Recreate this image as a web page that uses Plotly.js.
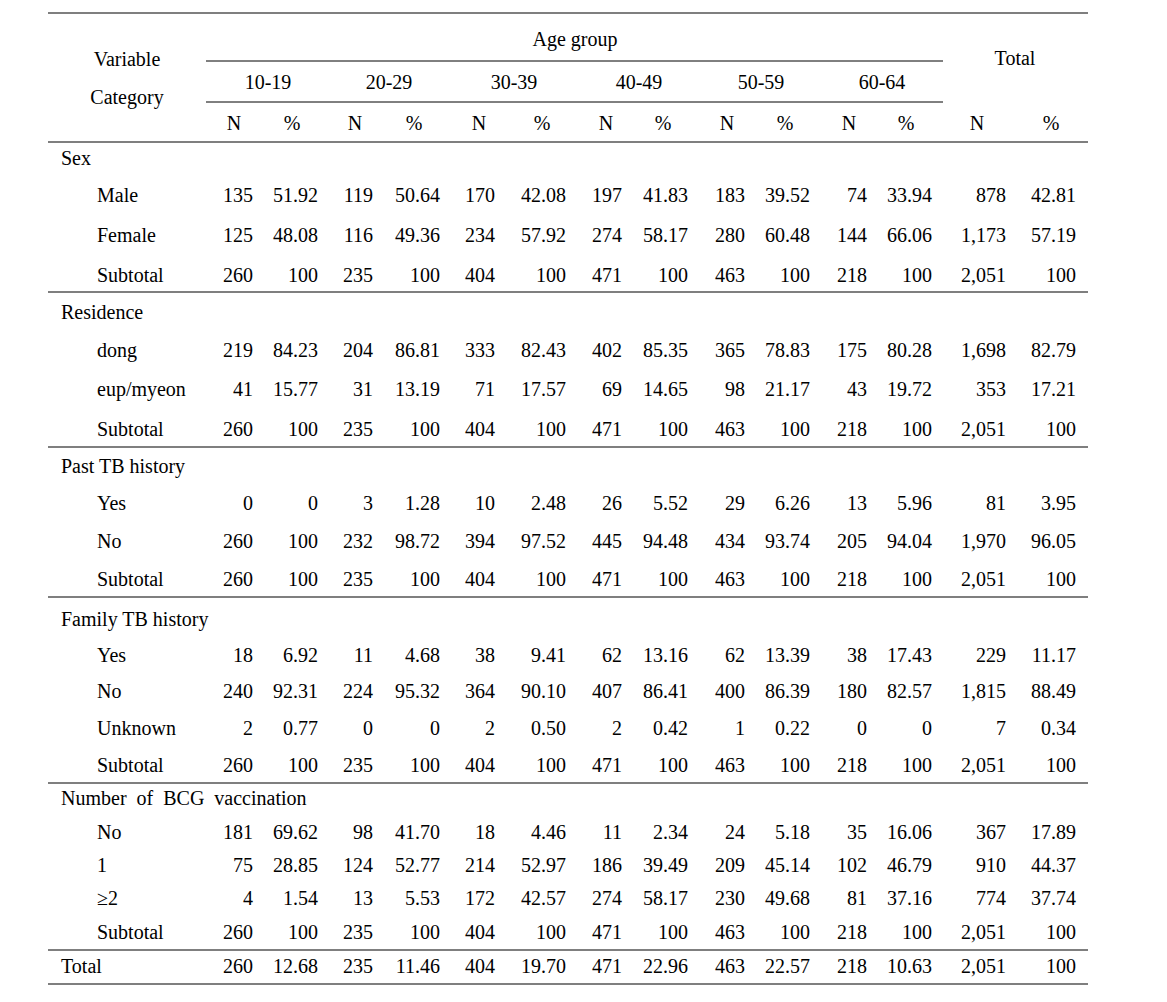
<!DOCTYPE html>
<html lang="en">
<head>
<meta charset="utf-8">
<title>Age group table</title>
<script src="https://cdn.plot.ly/plotly-3.0.1.min.js"></script>
<style>
  html, body { margin: 0; padding: 0; background: #fff; }
  #table { width: 1167px; height: 1002px; }
</style>
</head>
<body>
<div id="table"></div>
<script>
// ---- data ----
var ageGroups = ['10-19', '20-29', '30-39', '40-49', '50-59', '60-64'];
var sections = ['Sex', 'Residence', 'Past TB history', 'Family TB history', 'Number&nbsp; of&nbsp; BCG&nbsp; vaccination'];

var sexLabels = ['Male', 'Female', 'Subtotal'];
var sexN = [
  [135, 119, 170, 197, 183, 74, 878],
  [125, 116, 234, 274, 280, 144, 1173],
  [260, 235, 404, 471, 463, 218, 2051]
];
var sexPct = [
  ['51.92', '50.64', '42.08', '41.83', '39.52', '33.94', '42.81'],
  ['48.08', '49.36', '57.92', '58.17', '60.48', '66.06', '57.19'],
  ['100', '100', '100', '100', '100', '100', '100']
];

var resLabels = ['dong', 'eup/myeon', 'Subtotal'];
var resN = [
  [219, 204, 333, 402, 365, 175, 1698],
  [41, 31, 71, 69, 98, 43, 353],
  [260, 235, 404, 471, 463, 218, 2051]
];
var resPct = [
  ['84.23', '86.81', '82.43', '85.35', '78.83', '80.28', '82.79'],
  ['15.77', '13.19', '17.57', '14.65', '21.17', '19.72', '17.21'],
  ['100', '100', '100', '100', '100', '100', '100']
];

var pastLabels = ['Yes', 'No', 'Subtotal'];
var pastN = [
  [0, 3, 10, 26, 29, 13, 81],
  [260, 232, 394, 445, 434, 205, 1970],
  [260, 235, 404, 471, 463, 218, 2051]
];
var pastPct = [
  ['0', '1.28', '2.48', '5.52', '6.26', '5.96', '3.95'],
  ['100', '98.72', '97.52', '94.48', '93.74', '94.04', '96.05'],
  ['100', '100', '100', '100', '100', '100', '100']
];

var famLabels = ['Yes', 'No', 'Unknown', 'Subtotal'];
var famN = [
  [18, 11, 38, 62, 62, 38, 229],
  [240, 224, 364, 407, 400, 180, 1815],
  [2, 0, 2, 2, 1, 0, 7],
  [260, 235, 404, 471, 463, 218, 2051]
];
var famPct = [
  ['6.92', '4.68', '9.41', '13.16', '13.39', '17.43', '11.17'],
  ['92.31', '95.32', '90.10', '86.41', '86.39', '82.57', '88.49'],
  ['0.77', '0', '0.50', '0.42', '0.22', '0', '0.34'],
  ['100', '100', '100', '100', '100', '100', '100']
];

var bcgLabels = ['No', '1', '\u22652', 'Subtotal'];
var bcgN = [
  [181, 98, 18, 11, 24, 35, 367],
  [75, 124, 214, 186, 209, 102, 910],
  [4, 13, 172, 274, 230, 81, 774],
  [260, 235, 404, 471, 463, 218, 2051]
];
var bcgPct = [
  ['69.62', '41.70', '4.46', '2.34', '5.18', '16.06', '17.89'],
  ['28.85', '52.77', '52.97', '39.49', '45.14', '46.79', '44.37'],
  ['1.54', '5.53', '42.57', '58.17', '49.68', '37.16', '37.74'],
  ['100', '100', '100', '100', '100', '100', '100']
];

var totalN = [260, 235, 404, 471, 463, 218, 2051];
var totalPct = ['12.68', '11.46', '19.70', '22.96', '22.57', '10.63', '100'];

// ---- layout (pixel positions of the grid) ----
var colRight = [253, 318, 373, 440, 495, 566, 622, 688, 745, 810, 867, 932, 1006, 1076];
var subHeadX = [234, 292, 355, 414, 479, 542, 606, 663, 727, 785, 849, 906, 977, 1051];
var groupX = [268, 389, 514, 639, 761, 882];
var totalX = 1015;
var sectionY = [158, 312, 466, 619, 798];
var rowY = [
  [195, 235, 275],
  [350, 389, 429],
  [503, 541, 579],
  [655, 691, 728, 765],
  [832, 865, 898, 932]
];
var totalRowY = 966;
var ruleY = [292, 447, 597, 783, 950];

var FONT = 'Liberation Serif, Times New Roman, serif';
var fsz = 20;
var dy = 2; // text sits a bit lower than the nominal row centre

function fmt(n) {
  return n.toLocaleString('en-US');
}

var blocks = [
  {labels: sexLabels, n: sexN, p: sexPct},
  {labels: resLabels, n: resN, p: resPct},
  {labels: pastLabels, n: pastN, p: pastPct},
  {labels: famLabels, n: famN, p: famPct},
  {labels: bcgLabels, n: bcgN, p: bcgPct}
];

function textTrace(xs, ys, txt, pos) {
  return {
    type: 'scatter', mode: 'text',
    x: xs, y: ys.map(function (v) { return v + dy; }), text: txt,
    textposition: pos,
    textfont: {family: FONT, size: fsz, color: '#000'},
    hoverinfo: 'skip', cliponaxis: false, showlegend: false
  };
}

var traces = [];

// header
traces.push(textTrace([575], [39], ['Age group'], 'middle center'));
traces.push(textTrace([127, 127], [59, 97], ['Variable', 'Category'], 'middle center'));
traces.push(textTrace([totalX], [58], ['Total'], 'middle center'));
traces.push(textTrace(groupX, groupX.map(function () { return 82; }), ageGroups, 'middle center'));
traces.push(textTrace(subHeadX, subHeadX.map(function () { return 123; }),
  subHeadX.map(function (x, i) { return i % 2 == 0 ? 'N' : '%'; }), 'middle center'));

// section titles + row labels
var lx = [], ly = [], lt = [];
for (var s = 0; s < blocks.length; s++) {
  for (var r = 0; r < blocks[s].labels.length; r++) {
    lx.push(97); ly.push(rowY[s][r]); lt.push(blocks[s].labels[r]);
  }
}
lx.push(61); ly.push(totalRowY); lt.push('Total');
traces.push(textTrace(sectionY.map(function () { return 61; }), sectionY, sections, 'middle right'));
traces.push(textTrace(lx, ly, lt, 'middle right'));

// numbers, one trace per column (right aligned)
for (var c = 0; c < 7; c++) {
  var ys = [], tn = [], tp = [];
  for (var s = 0; s < blocks.length; s++) {
    for (var r = 0; r < blocks[s].labels.length; r++) {
      ys.push(rowY[s][r]);
      tn.push(fmt(blocks[s].n[r][c]));
      tp.push(blocks[s].p[r][c]);
    }
  }
  ys.push(totalRowY);
  tn.push(fmt(totalN[c]));
  tp.push(totalPct[c]);
  traces.push(textTrace(ys.map(function () { return colRight[2 * c]; }), ys, tn, 'middle left'));
  traces.push(textTrace(ys.map(function () { return colRight[2 * c + 1]; }), ys, tp, 'middle left'));
}

function hline(x0, x1, y, w) {
  return {type: 'line', xref: 'x', yref: 'y', x0: x0, x1: x1, y0: y, y1: y,
          line: {color: '#000', width: w || 1.2}};
}
var shapes = [
  hline(48, 1088, 13),
  hline(206, 943, 61, 1),
  hline(206, 943, 102, 1),
  hline(48, 1088, 142)
];
ruleY.forEach(function (y) { shapes.push(hline(48, 1088, y)); });
shapes.push(hline(48, 1088, 984));

var layout = {
  width: 1167, height: 1002,
  margin: {l: 0, r: 0, t: 0, b: 0},
  paper_bgcolor: '#fff', plot_bgcolor: '#fff',
  xaxis: {range: [0, 1167], visible: false, fixedrange: true},
  yaxis: {range: [1002, 0], visible: false, fixedrange: true},
  shapes: shapes,
  showlegend: false,
  hovermode: false
};

Plotly.newPlot('table', traces, layout, {displayModeBar: false, staticPlot: true});
</script>
</body>
</html>
